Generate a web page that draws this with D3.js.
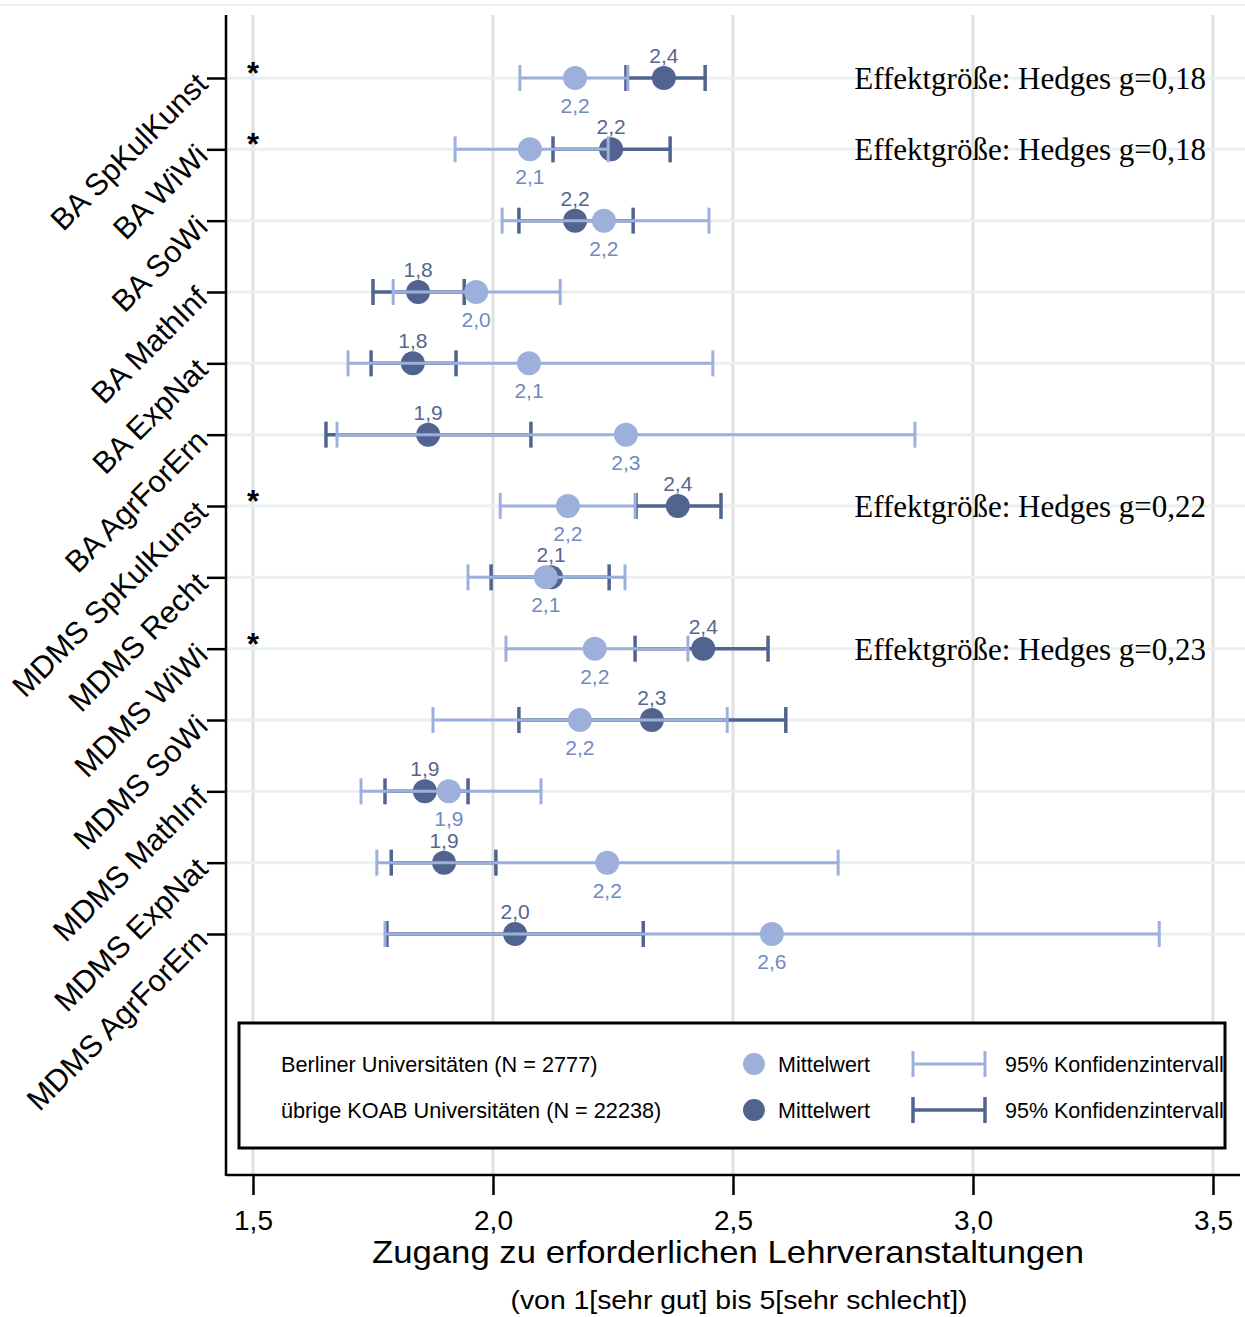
<!DOCTYPE html>
<html><head><meta charset="utf-8">
<script src="https://cdn.jsdelivr.net/npm/d3@7"></script>
<style>body{margin:0;background:#fff}svg{display:block}</style>
</head><body>
<script>
const categories = ["BA SpKulKunst","BA WiWi","BA SoWi","BA MathInf","BA ExpNat","BA AgrForErn",
  "MDMS SpKulKunst","MDMS Recht","MDMS WiWi","MDMS SoWi","MDMS MathInf","MDMS ExpNat","MDMS AgrForErn"];
// Berliner Universitäten
const berlinMean = [2.171,2.077,2.231,1.965,2.075,2.277,2.156,2.110,2.212,2.181,1.908,2.238,2.581];
const berlinLow  = [2.056,1.921,2.019,1.792,1.698,1.675,2.015,1.948,2.027,1.875,1.725,1.758,1.775];
const berlinHigh = [2.281,2.240,2.450,2.140,2.458,2.879,2.296,2.275,2.406,2.488,2.100,2.719,3.388];
// übrige KOAB Universitäten
const otherMean = [2.356,2.246,2.171,1.844,1.833,1.865,2.385,2.121,2.438,2.331,1.858,1.898,2.046];
const otherLow  = [2.277,2.125,2.054,1.750,1.746,1.652,2.298,1.996,2.296,2.054,1.775,1.788,1.779];
const otherHigh = [2.442,2.369,2.292,1.940,1.923,2.079,2.475,2.242,2.573,2.610,1.948,2.006,2.313];
const significant = ["BA SpKulKunst","BA WiWi","MDMS SpKulKunst","MDMS WiWi"];
const effectLabels = [["BA SpKulKunst","Effektgröße: Hedges g=0,18"],["BA WiWi","Effektgröße: Hedges g=0,18"],
  ["MDMS SpKulKunst","Effektgröße: Hedges g=0,22"],["MDMS WiWi","Effektgröße: Hedges g=0,23"]];
const xTicks = [1.5,2.0,2.5,3.0,3.5];
const xTitle = "Zugang zu erforderlichen Lehrveranstaltungen";
const xSubtitle = "(von 1[sehr gut] bis 5[sehr schlecht])";
const legendGroups = ["Berliner Universitäten (N = 2777)","übrige KOAB Universitäten (N = 22238)"];

const W=1245,H=1317;
const LIGHT="#9db0dc", DARK="#51648f", LIGHTTXT="#7389c0", DARKTXT="#56668f";
const sans="'Liberation Sans',Arial,sans-serif";
const fmt = v => v.toFixed(1).replace(".",",");

const svg=d3.select("body").append("svg").attr("width",W).attr("height",H);
const x=d3.scaleLinear().domain([1.5,3.5]).range([253,1213]);
const y=d3.scalePoint().domain(categories).range([78,934]);
const plotTop=15, plotBottom=1175, axisX=226;

svg.append("line").attr("x1",0).attr("x2",W).attr("y1",5).attr("y2",5).attr("stroke","#eef2f2").attr("stroke-width",2);

svg.append("g").selectAll("line").data(xTicks).join("line")
  .attr("x1",d=>x(d)).attr("x2",d=>x(d)).attr("y1",plotTop).attr("y2",plotBottom)
  .attr("stroke","#e0e0e0").attr("stroke-width",3);
svg.append("g").selectAll("line").data(categories).join("line")
  .attr("x1",axisX).attr("x2",W).attr("y1",d=>y(d)).attr("y2",d=>y(d))
  .attr("stroke","#e9f0f0").attr("stroke-width",3);

const rows = categories.map((c,i)=>({c,bm:berlinMean[i],bl:berlinLow[i],bh:berlinHigh[i],om:otherMean[i],ol:otherLow[i],oh:otherHigh[i]}));
const capH=13;
function drawCI(g,lo,hi,col,w){
  const sel=g.selectAll(null).data(rows).join("g").attr("transform",d=>`translate(0,${y(d.c)})`);
  sel.append("line").attr("x1",d=>x(d[lo])).attr("x2",d=>x(d[hi])).attr("y1",0).attr("y2",0).attr("stroke",col).attr("stroke-width",w);
  sel.append("line").attr("x1",d=>x(d[lo])).attr("x2",d=>x(d[lo])).attr("y1",-capH).attr("y2",capH).attr("stroke",col).attr("stroke-width",w);
  sel.append("line").attr("x1",d=>x(d[hi])).attr("x2",d=>x(d[hi])).attr("y1",-capH).attr("y2",capH).attr("stroke",col).attr("stroke-width",w);
}
const marks=svg.append("g");
drawCI(marks.append("g"),"ol","oh",DARK,3.5);
marks.append("g").selectAll("circle").data(rows).join("circle").attr("cx",d=>x(d.om)).attr("cy",d=>y(d.c)).attr("r",12).attr("fill",DARK);
drawCI(marks.append("g"),"bl","bh",LIGHT,3);
marks.append("g").selectAll("circle").data(rows).join("circle").attr("cx",d=>x(d.bm)).attr("cy",d=>y(d.c)).attr("r",12).attr("fill",LIGHT);

svg.append("g").selectAll("text").data(rows).join("text")
  .attr("x",d=>x(d.om)).attr("y",d=>y(d.c)-15).attr("text-anchor","middle")
  .attr("font-family",sans).attr("font-size",21).attr("fill",DARKTXT).text(d=>fmt(d.om));
svg.append("g").selectAll("text").data(rows).join("text")
  .attr("x",d=>x(d.bm)).attr("y",d=>y(d.c)+35).attr("text-anchor","middle")
  .attr("font-family",sans).attr("font-size",21).attr("fill",LIGHTTXT).text(d=>fmt(d.bm));

svg.append("g").selectAll("text").data(significant).join("text")
  .attr("x",x(1.5)).attr("y",d=>y(d)+6).attr("text-anchor","middle")
  .attr("font-family",sans).attr("font-weight","bold").attr("font-size",31).attr("fill","#000").text("*");

svg.append("g").selectAll("text").data(effectLabels).join("text")
  .attr("x",1206).attr("y",d=>y(d[0])+11).attr("text-anchor","end")
  .attr("font-family","'Liberation Serif','Times New Roman',serif").attr("font-size",31).attr("fill","#000").text(d=>d[1]);

const xAxis=svg.append("g").attr("transform",`translate(0,${plotBottom})`)
  .call(d3.axisBottom(x).tickValues(xTicks).tickSize(20).tickPadding(15).tickFormat(fmt));
xAxis.select(".domain").remove();
xAxis.selectAll(".tick line").attr("stroke","#000").attr("stroke-width",2.5);
xAxis.selectAll(".tick text").attr("font-family",sans).attr("font-size",28).attr("fill","#000");
svg.append("line").attr("x1",axisX).attr("x2",1240).attr("y1",plotBottom).attr("y2",plotBottom).attr("stroke","#000").attr("stroke-width",2.5);

const yAxis=svg.append("g").attr("transform",`translate(${axisX},0)`)
  .call(d3.axisLeft(y).tickSize(19).tickPadding(4));
yAxis.select(".domain").remove();
yAxis.selectAll(".tick line").attr("stroke","#000").attr("stroke-width",2.5);
yAxis.selectAll(".tick text").attr("font-family",sans).attr("font-size",30.5).attr("fill","#000")
  .attr("text-anchor","end").attr("x",-24).attr("dy","0.35em")
  .attr("transform","rotate(-45,-24,0)");
svg.append("line").attr("x1",axisX).attr("x2",axisX).attr("y1",plotTop).attr("y2",plotBottom+1).attr("stroke","#000").attr("stroke-width",2.5);

svg.append("text").attr("x",728).attr("y",1263).attr("text-anchor","middle")
  .attr("font-family",sans).attr("font-size",32).attr("fill","#000")
  .attr("textLength",712).attr("lengthAdjust","spacingAndGlyphs").text(xTitle);
svg.append("text").attr("x",739).attr("y",1309).attr("text-anchor","middle")
  .attr("font-family",sans).attr("font-size",25).attr("fill","#000")
  .attr("textLength",457).attr("lengthAdjust","spacingAndGlyphs").text(xSubtitle);

const lg=svg.append("g");
svg.append("clipPath").attr("id","lgclip").append("rect").attr("x",239).attr("y",1023).attr("width",984).attr("height",125);
lg.append("rect").attr("x",239).attr("y",1023).attr("width",986).attr("height",125).attr("fill","#fff").attr("stroke","#000").attr("stroke-width",3);
const lgc=lg.append("g").attr("clip-path","url(#lgclip)");
const lgRows=[{name:legendGroups[0],col:LIGHT,w:3,y:1064},{name:legendGroups[1],col:DARK,w:3.5,y:1110}];
lgRows.forEach(r=>{
  lgc.append("text").attr("x",281).attr("y",r.y+8).attr("font-family",sans).attr("font-size",21.7).attr("fill","#000").text(r.name);
  lgc.append("circle").attr("cx",754).attr("cy",r.y).attr("r",11).attr("fill",r.col);
  lgc.append("text").attr("x",778).attr("y",r.y+8).attr("font-family",sans).attr("font-size",21.5).attr("fill","#000").text("Mittelwert");
  lgc.append("line").attr("x1",913).attr("x2",985).attr("y1",r.y).attr("y2",r.y).attr("stroke",r.col).attr("stroke-width",r.w);
  [913,985].forEach(xx=>lgc.append("line").attr("x1",xx).attr("x2",xx).attr("y1",r.y-13).attr("y2",r.y+13).attr("stroke",r.col).attr("stroke-width",r.w));
  lgc.append("text").attr("x",1005).attr("y",r.y+8).attr("font-family",sans).attr("font-size",21.5).attr("fill","#000").text("95% Konfidenzintervall");
});
</script>
</body></html>
